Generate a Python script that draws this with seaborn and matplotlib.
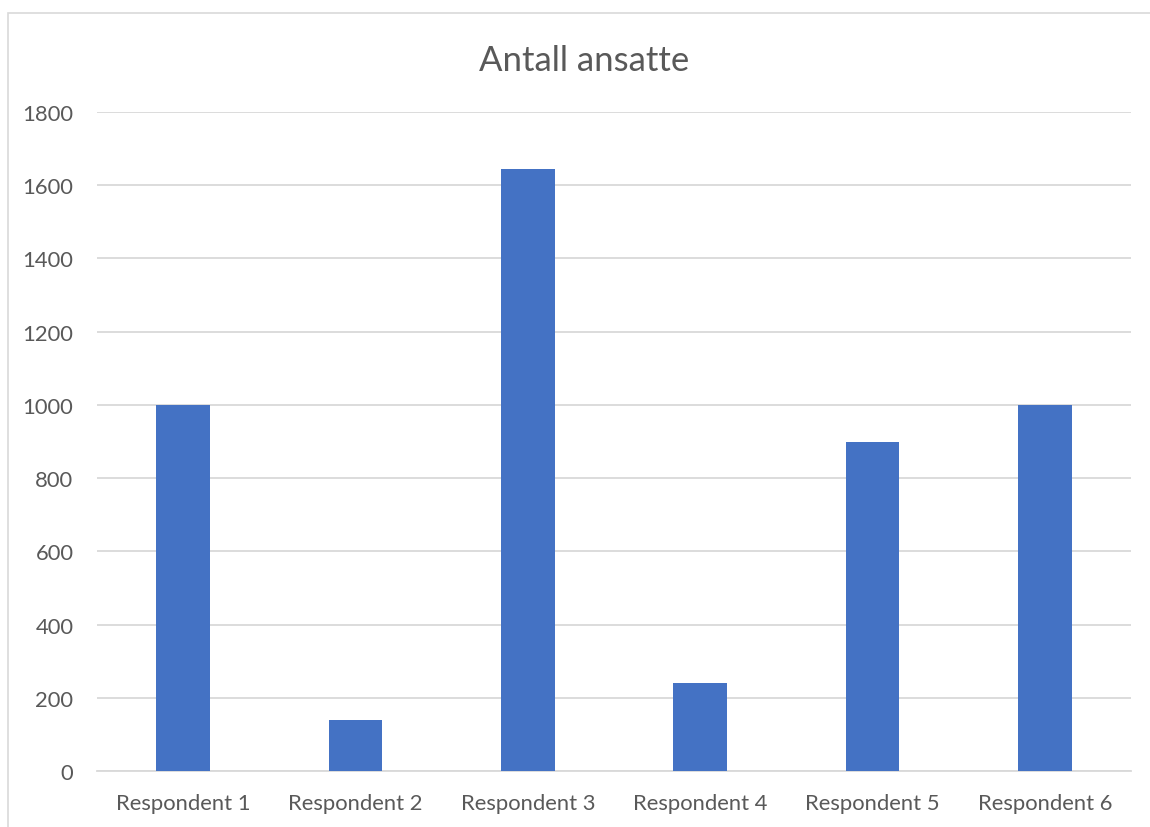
import matplotlib
matplotlib.use("Agg")
import matplotlib.pyplot as plt
import seaborn as sns
import pandas as pd
from matplotlib.patches import Rectangle

categories = ["Respondent 1", "Respondent 2", "Respondent 3", "Respondent 4", "Respondent 5", "Respondent 6"]
values = [1000, 140, 1645, 240, 900, 1000]
yticks = [0, 200, 400, 600, 800, 1000, 1200, 1400, 1600, 1800]
title = "Antall ansatte"

sns.set_theme(style="white")
plt.rcParams['font.family'] = ['Lato', 'DejaVu Sans']

df = pd.DataFrame({"cat": categories, "val": values})
fig = plt.figure(figsize=(11.5, 8.28), dpi=100)
ax = fig.add_axes([97/1150, 1-772/828, (1131-97)/1150, (772-113)/828])

sns.barplot(data=df, x="cat", y="val", color="#4472C4", width=0.31, ax=ax,
            saturation=1, zorder=3, linewidth=0)
ax.set_ylim(0, 1800)
ax.set_yticks(yticks)
ax.set_yticklabels([str(t) for t in yticks])
ax.set_xlim(-0.5, len(categories) - 0.5)
ax.grid(axis="y", color="#D9D9D9", linewidth=1.3, zorder=0)
ax.set_axisbelow(True)
for s in ["top", "right", "left"]:
    ax.spines[s].set_visible(False)
ax.spines["bottom"].set_color("#D9D9D9")
ax.spines["bottom"].set_linewidth(1.3)
ax.tick_params(axis="both", length=0, labelsize=15.8, colors="#595959")
ax.tick_params(axis="x", pad=16)
ax.tick_params(axis="y", pad=17)
ax.set_xlabel("")
ax.set_ylabel("")
fig.text(584/1150, 1-61/828, title, ha="center", va="center", fontsize=25, color="#595959")

fig.patches.append(Rectangle((8/1150, -0.1), 1.2, 1-14/828 + 0.1, transform=fig.transFigure,
                             fill=False, edgecolor="#D9D9D9", linewidth=1.2))
fig.savefig("out.png", dpi=100, facecolor="white")
